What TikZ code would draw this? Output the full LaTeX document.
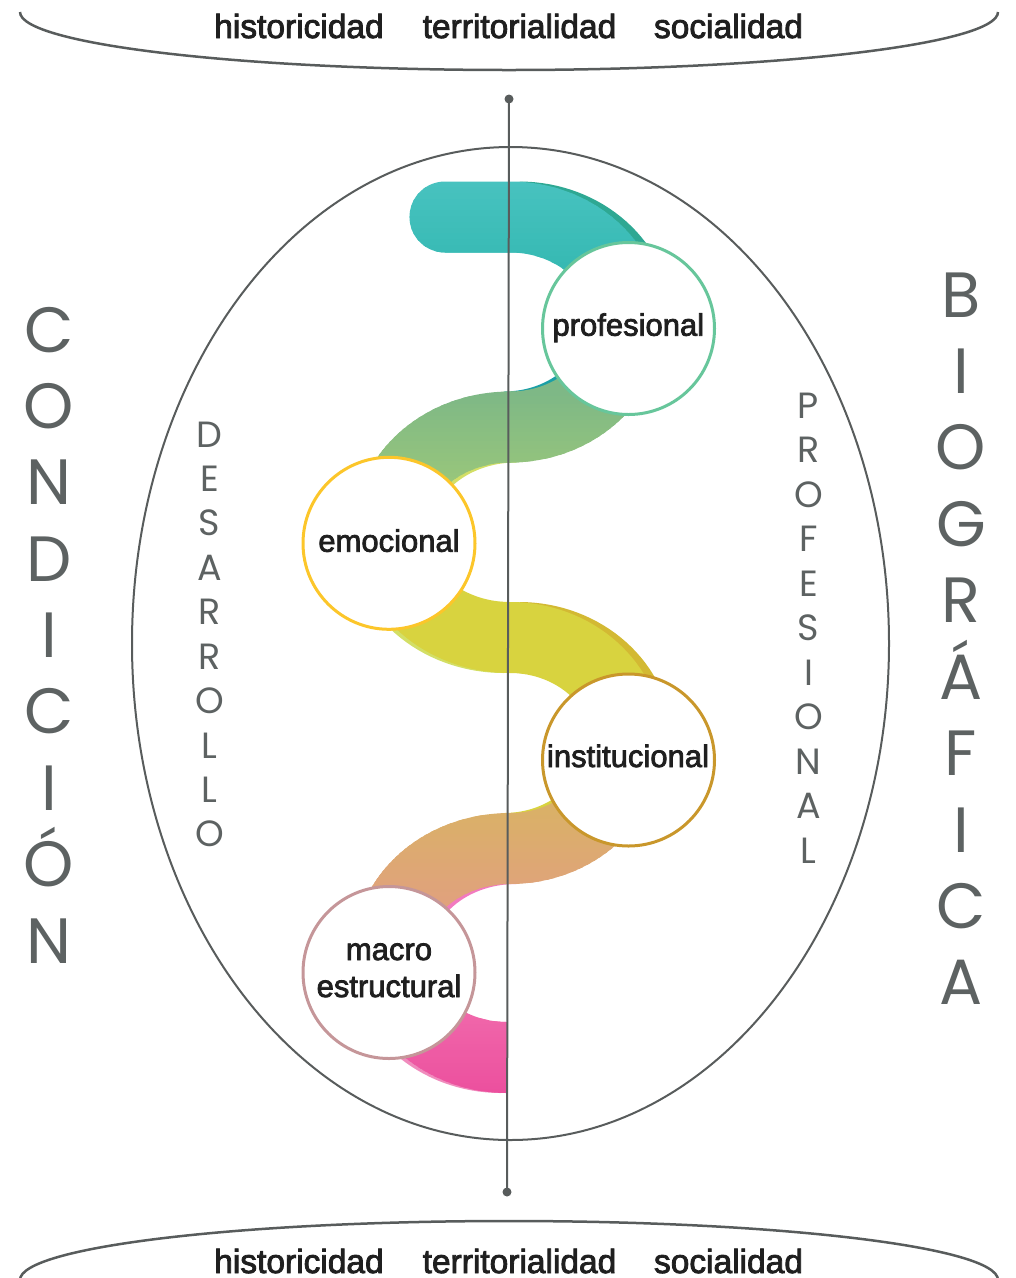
\documentclass[tikz,border=0pt]{standalone}
\usepackage{fontspec}
\setmainfont{Liberation Sans}
\newfontfamily\geo{Poppins}
\newfontfamily\medf{Liberation Sans}[FakeBold=2.5]
\definecolor{linegray}{HTML}{585C5C}
\definecolor{lettergray}{HTML}{5D6262}
\definecolor{textdark}{HTML}{1F1F1F}
\definecolor{ctealtop}{HTML}{47C2BF}
\definecolor{ctealbot}{HTML}{2CB4AC}
\definecolor{ctealdark}{HTML}{2EA893}
\definecolor{ctealdeep}{HTML}{1B9FA6}
\definecolor{cgreentop}{HTML}{7EB886}
\definecolor{cgreenbot}{HTML}{9AC77A}
\definecolor{cyellow}{HTML}{D8D33F}
\definecolor{cyellowlight}{HTML}{D3DF66}
\definecolor{cgold}{HTML}{D3B933}
\definecolor{corangetop}{HTML}{DAB068}
\definecolor{corangebot}{HTML}{E0A27C}
\definecolor{cpinktop}{HTML}{F066AA}
\definecolor{cpinkbot}{HTML}{EC509E}
\definecolor{cpinklight}{HTML}{F08CBD}
\definecolor{cpinkmid}{HTML}{F27AC0}
\definecolor{cprof}{HTML}{67C69B}
\definecolor{cemo}{HTML}{FCC62A}
\definecolor{cinst}{HTML}{C9972B}
\definecolor{cmacro}{HTML}{C59699}
% #1 extra options, #2 path, #3 top colour, #4 bottom colour, #5 y top, #6 y bottom
\newcommand\gradband[6]{%
  \foreach \k in {0,...,23}{%
    \pgfmathsetmacro\ya{\k==0 ? 0 : #5+(#6-#5)*\k/24}%
    \pgfmathsetmacro\yb{\k==23 ? 1300 : #5+(#6-#5)*(\k+1)/24+1}%
    \pgfmathsetmacro\pc{100*\k/23}%
    \begin{scope}
      \clip (0,\ya) rectangle (1016,\yb);
      \draw[band, color=#4!\pc!#3, #1] #2;
    \end{scope}}}
\begin{document}
\begin{tikzpicture}[x=1pt,y=-1pt,
  gline/.style={draw=linegray, line width=2pt},
  band/.style={line width=71pt},
  bubble/.style={circle, draw, fill=white, line width=3pt, minimum size=172pt, inner sep=0pt},
  bubtext/.style={font=\medf\fontsize{31}{37}\selectfont, text=textdark, anchor=base, inner sep=0pt},
  toptext/.style={font=\medf\fontsize{33.5}{36}\selectfont, text=textdark, anchor=base, inner sep=0pt},
  bigletter/.style={font=\geo\fontsize{64}{64}\selectfont, text=lettergray, anchor=base, inner sep=0pt},
  midletter/.style={font=\geo\fontsize{36.5}{36.5}\selectfont, text=lettergray, anchor=base, inner sep=0pt}]
\useasboundingbox (0,0) rectangle (1016,1278);

% outer arcs
\draw[gline, line width=2.5pt] (20,12) .. controls (20,44) and (239,70) .. (509,70) .. controls (779,70) and (998,44) .. (998,12);
\draw[gline, line width=2.5pt] (20,1280) .. controls (20,1247) and (239,1221) .. (509,1221) .. controls (779,1221) and (998,1247) .. (998,1280);

% top and bottom words
\node[toptext] (th) at (299,38) {historicidad};
\node[toptext] (tt) at (519.5,38) {territorialidad};
\node[toptext] (ts) at (728.5,38) {socialidad};
\node[toptext] (bh) at (299,1273) {historicidad};
\node[toptext] (bt) at (519.5,1273) {territorialidad};
\node[toptext] (bs) at (728.5,1273) {socialidad};

% big ellipse
\draw[gline] (510.5,643.5) ellipse [x radius=378.5pt, y radius=496.5pt];

% band: teal
\draw[band, ctealdark, xshift=9pt] (510,217) .. controls (575,217) and (628,264) .. (628,322);
\gradband{line cap=round}{(445,217) -- (510,217) .. controls (575,217) and (628,264) .. (628,322)}{ctealtop}{ctealbot}{182}{320}
\draw[band, ctealdeep, xshift=-6pt] (628,322) .. controls (628,380) and (575,427) .. (510,427);
% green
\draw[band, cyellowlight, xshift=6pt] (510,427) .. controls (443,427) and (389,474) .. (389,532);
\gradband{}{(628,322) .. controls (628,380) and (575,427) .. (510,427) .. controls (443,427) and (389,474) .. (389,532)}{cgreentop}{cgreenbot}{392}{490}
% yellow
\draw[band, cyellowlight, xshift=-6pt] (389,532) .. controls (389,590) and (443,637.5) .. (510,637.5);
\draw[band, cgold, xshift=9pt] (510,637.5) .. controls (575,637.5) and (628,685) .. (628,743);
\draw[band, cyellow] (389,532) .. controls (389,590) and (443,637.5) .. (510,637.5) .. controls (575,637.5) and (628,685) .. (628,743);
% orange
\draw[band, cyellow, xshift=-6pt] (628,743) .. controls (628,801) and (575,848.5) .. (510,848.5);
\draw[band, cpinkmid, xshift=6pt] (510,848.5) .. controls (443,848.5) and (389,895) .. (389,953);
\gradband{}{(628,743) .. controls (628,801) and (575,848.5) .. (510,848.5) .. controls (443,848.5) and (389,895) .. (389,953)}{corangetop}{corangebot}{812}{900}
% pink
\draw[band, cpinklight, xshift=-6pt] (389,953) .. controls (389,1011) and (443,1057.5) .. (507,1057.5);
\gradband{}{(389,953) .. controls (389,1011) and (443,1057.5) .. (507,1057.5)}{cpinktop}{cpinkbot}{1015}{1093}

% vertical axis
\coordinate (atop) at (509,99);
\coordinate (abot) at (507,1192);
\draw[gline] (atop) -- (abot);
\fill[linegray] (atop) circle [radius=4.5pt];
\fill[linegray] (abot) circle [radius=4.5pt];

% circles
\node[bubble, draw=cprof] (prof) at (628.5,328.5) {};
\node[bubble, draw=cemo] (emo) at (389,543.3) {};
\node[bubble, draw=cinst] (inst) at (628.5,760) {};
\node[bubble, draw=cmacro] (macro) at (389,972.5) {};
\node[bubtext] (profT) at (628.3,335.7) {profesional};
\node[bubtext] (emoT) at (389,551.7) {emocional};
\node[bubtext] (instT) at (628,767) {institucional};
\node[bubtext] (macroT1) at (389,960) {macro};
\node[bubtext] (macroT2) at (389,997) {estructural};

% CONDICIÓN
\foreach \l [count=\i from 0] in {C,O,N,D,I,C,I,Ó,N}
  \node[bigletter] (cl\i) at (49,352+76.375*\i) {\l};
% BIOGRÁFICA
\foreach \l [count=\i from 0] in {B,I,O,G,R,Á,F,I,C,A}
  \node[bigletter] (bl\i) at (961,317+76.44*\i) {\l};
% DESARROLLO
\foreach \l [count=\i from 0] in {D,E,S,A,R,R,O,L,L,O}
  \node[midletter] (dl\i) at (209.5,447+44.44*\i) {\l};
% PROFESIONAL
\foreach \l [count=\i from 0] in {P,R,O,F,E,S,I,O,N,A,L}
  \node[midletter] (pl\i) at (808.5,418+44.5*\i) {\l};
\end{tikzpicture}
\end{document}
